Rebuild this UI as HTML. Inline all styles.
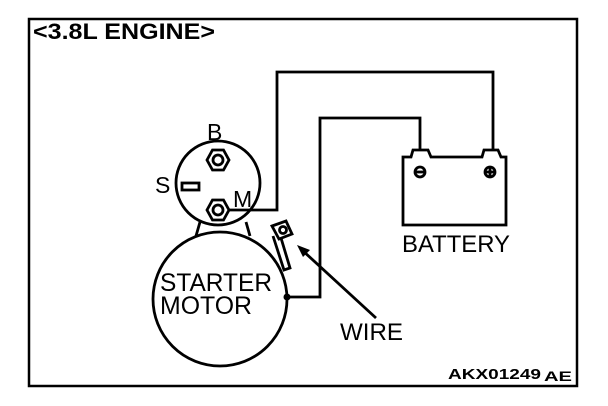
<!DOCTYPE html>
<html><head><meta charset="utf-8"><style>
html,body{margin:0;padding:0;background:#fff;}
svg{display:block;}
text{font-family:"Liberation Sans",Arial,sans-serif;fill:#000;}
</style></head><body>
<svg width="608" height="406" viewBox="0 0 608 406" xmlns="http://www.w3.org/2000/svg">
<rect x="29" y="19" width="548" height="367" fill="none" stroke="#000" stroke-width="2.5"/>
<text x="33" y="39" font-size="22" font-weight="bold" textLength="182" lengthAdjust="spacingAndGlyphs">&lt;3.8L ENGINE&gt;</text>
<g fill="none" stroke="#000" stroke-width="2.8">
<path d="M200 222 L196 236 M246 222 L250 236"/>
<circle cx="218" cy="183" r="42" fill="#fff"/>
<circle cx="220" cy="299" r="67" fill="#fff"/>
<polygon points="207,160 212.5,150 223.5,150 229,160 223.5,170 212.5,170" fill="#fff"/>
<circle cx="218" cy="160" r="5"/>
<polygon points="207,210 212.5,200 223.5,200 229,210 223.5,220 212.5,220" fill="#fff"/>
<circle cx="218" cy="210" r="5"/>
<rect x="182" y="183" width="17" height="7" fill="#fff"/>
<polyline points="229,210 277,210 277,72 493,72 493,150"/>
<polyline points="287,297 320,297 320,118 420,118 420,150"/>
<path d="M403 225 L403 157 L411 157 L413 150 L428 150 L431 157 L482 157 L484 150 L498 150 L501 157 L506 157 L506 225 Z"/>
<circle cx="420" cy="172" r="5"/><path d="M416 172 H424"/>
<circle cx="490" cy="172" r="5"/><path d="M486 172 H494 M490 168 V176"/>
<path d="M272 226 L286 221 L292 234 L279 239 Z"/>
<circle cx="283" cy="230" r="3.5"/>
<path d="M273 236 L284 270 L290 268 L281 238"/>
<path d="M376 318 L302 250"/>
</g>
<polygon points="297,245 310,250 303,257" fill="#000"/>
<circle cx="287" cy="297" r="3.5" fill="#000"/>
<text x="207" y="140" font-size="23">B</text>
<text x="155" y="193" font-size="23">S</text>
<text x="233" y="207" font-size="23">M</text>
<text x="160" y="291" font-size="25" textLength="112" lengthAdjust="spacingAndGlyphs">STARTER</text>
<text x="160" y="314" font-size="25" textLength="92" lengthAdjust="spacingAndGlyphs">MOTOR</text>
<text x="402" y="252" font-size="24" textLength="108" lengthAdjust="spacingAndGlyphs">BATTERY</text>
<text x="340" y="340" font-size="24" textLength="63" lengthAdjust="spacingAndGlyphs">WIRE</text>
<text x="448" y="379" font-size="15" font-weight="bold" textLength="93" lengthAdjust="spacingAndGlyphs">AKX01249</text>
<text x="544" y="381" font-size="14" font-weight="bold" textLength="28" lengthAdjust="spacingAndGlyphs">AE</text>
</svg>
</body></html>
